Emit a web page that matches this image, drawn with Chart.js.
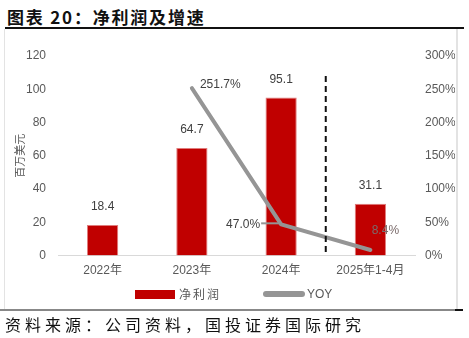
<!DOCTYPE html>
<html>
<head>
<meta charset="utf-8">
<script src="https://cdn.jsdelivr.net/npm/chart.js@4.4.1/dist/chart.umd.min.js"></script>
<style>
  html, body { margin: 0; padding: 0; background: #fff; }
  body { width: 469px; height: 338px; position: relative; overflow: hidden;
         font-family: "Liberation Sans", "Noto Sans CJK SC", sans-serif; }
  #title { position: absolute; left: 7px; top: 4px; font-size: 17px; font-weight: bold;
           color: #111; font-family: "Noto Sans CJK SC", sans-serif; letter-spacing: 1.8px; }
  #topRule { position: absolute; left: 5px; top: 27px; width: 459px; height: 2px; background: #111; }
  #frame { position: absolute; left: 4px; top: 29px; width: 451px; height: 280px;
           border-left: 1px solid #e3e3e3; border-right: 2px solid #e3e3e3; }
  #bottomRule { position: absolute; left: 0px; top: 309px; width: 458px; height: 2px; background: #888; }
  #bottomRule2 { position: absolute; left: 455px; top: 309px; width: 8px; height: 2px; background: #111; }
  #source { position: absolute; left: 5px; top: 312px; font-size: 16px; color: #111;
            font-family: "Noto Sans CJK SC", sans-serif; letter-spacing: 4px; }
  #wrap { position: absolute; left: 5px; top: 29px; width: 450px; height: 280px; }
  .lg { position: absolute; font-size: 12px; color: #595959; line-height: 14px;
        font-family: "Noto Sans CJK SC", sans-serif; }
  .sw { position: absolute; }
</style>
</head>
<body>
<div id="title">图表 20：净利润及增速</div>
<div id="topRule"></div>
<div id="frame"></div>
<div id="wrap"><canvas id="c" width="450" height="280"></canvas></div>
<div class="sw" style="left:135px; top:290px; width:40px; height:9px; background:#C00000;"></div>
<div class="lg" style="left:179px; top:287px; letter-spacing:2px;">净利润</div>
<div class="sw" style="left:263px; top:291px; width:42px; height:6px; border-radius:3px; background:#959595;"></div>
<div class="lg" style="left:307px; top:287px; font-family:'Liberation Sans', sans-serif;">YOY</div>
<div id="bottomRule"></div>
<div id="bottomRule2"></div>
<div id="source">资料来源：公司资料，国投证券国际研究</div>
<script>
// Net profit (USD mn) and year-on-year growth (%)
const categories = ['2022年', '2023年', '2024年', '2025年1-4月'];
const netProfit = [18.4, 64.7, 95.1, 31.1];
const yoyGrowth = [null, 251.7, 47.0, 8.4];
const leftTicks = [0, 20, 40, 60, 80, 100, 120];
const rightTicks = [0, 50, 100, 150, 200, 250, 300];

const RED = '#C00000';
const GREY = '#959595';
const TEXT = '#595959';

// Value labels, the 2024 / YTD divider and the YOY label leader
const labelPlugin = {
  id: 'valueLabels',
  afterDatasetsDraw(chart) {
    const { ctx, scales } = chart;
    const x = scales.x, y = scales.y, y1 = scales.y1;
    ctx.save();

    // dashed divider between full years and the partial year
    const xd = (x.getPixelForValue(2) + x.getPixelForValue(3)) / 2;
    ctx.strokeStyle = '#111';
    ctx.lineWidth = 2;
    ctx.setLineDash([6, 4]);
    ctx.beginPath();
    ctx.moveTo(xd, y.getPixelForValue(108));
    ctx.lineTo(xd, y.getPixelForValue(0));
    ctx.stroke();
    ctx.setLineDash([]);

    ctx.font = '12px "Liberation Sans", sans-serif';
    ctx.fillStyle = '#404040';
    ctx.textAlign = 'center';
    ctx.textBaseline = 'middle';
    netProfit.forEach((v, i) => {
      ctx.fillText(v.toFixed(1), x.getPixelForValue(i), y.getPixelForValue(v) - 18);
    });

    // YOY labels
    const p1x = x.getPixelForValue(1), p1y = y1.getPixelForValue(yoyGrowth[1]);
    ctx.textAlign = 'left';
    ctx.fillText(yoyGrowth[1].toFixed(1) + '%', p1x + 8, p1y - 3);

    const p2x = x.getPixelForValue(2), p2y = y1.getPixelForValue(yoyGrowth[2]);
    ctx.strokeStyle = GREY;
    ctx.lineWidth = 2;
    ctx.beginPath();
    ctx.moveTo(p2x - 20, p2y - 1);
    ctx.lineTo(p2x, p2y - 1);
    ctx.stroke();
    ctx.textAlign = 'right';
    ctx.fillText(yoyGrowth[2].toFixed(1) + '%', p2x - 21, p2y);

    const p3x = x.getPixelForValue(3), p3y = y1.getPixelForValue(yoyGrowth[3]);
    ctx.textAlign = 'center';
    ctx.fillStyle = '#7a6a6a';
    ctx.fillText(yoyGrowth[3].toFixed(1) + '%', p3x + 15, p3y - 19);
    ctx.restore();
  }
};

new Chart(document.getElementById('c'), {
  data: {
    labels: categories,
    datasets: [
      {
        type: 'line',
        label: 'YOY',
        data: yoyGrowth,
        yAxisID: 'y1',
        borderColor: GREY,
        backgroundColor: GREY,
        borderWidth: 4,
        borderCapStyle: 'round',
        borderJoinStyle: 'round',
        pointRadius: 0,
        pointHoverRadius: 0,
        spanGaps: false,
        order: 0
      },
      {
        type: 'bar',
        label: '净利润',
        data: netProfit,
        yAxisID: 'y',
        backgroundColor: RED,
        borderColor: '#e07c7c',
        borderWidth: 1,
        barPercentage: 0.35,
        categoryPercentage: 1.0,
        order: 1
      }
    ]
  },
  options: {
    responsive: false,
    animation: false,
    devicePixelRatio: 1,
    layout: { padding: { top: 27, right: 0, left: 8, bottom: 23 } },
    plugins: {
      tooltip: { enabled: false },
      legend: { display: false }
    },
    scales: {
      x: {
        grid: { display: false, drawTicks: false },
        border: { display: true, color: '#d9d9d9', width: 1 },
        ticks: { color: TEXT, padding: 8, font: { size: 12, family: '"Liberation Sans", "Noto Sans CJK SC", sans-serif' } }
      },
      y: {
        position: 'left',
        min: 0, max: 120,
        afterBuildTicks(s) { s.ticks = leftTicks.map(v => ({ value: v })); },
        afterFit(s) { s.width = 45; },
        grid: { display: false, drawTicks: false },
        border: { display: false },
        title: { display: true, text: '百万美元', color: TEXT, padding: { top: 0, bottom: 0 },
                 font: { size: 11, family: '"Noto Sans CJK SC", sans-serif' } },
        ticks: { color: TEXT, padding: 12, font: { size: 12, family: '"Liberation Sans", sans-serif' } }
      },
      y1: {
        position: 'right',
        min: 0, max: 300,
        afterBuildTicks(s) { s.ticks = rightTicks.map(v => ({ value: v })); },
        afterFit(s) { s.width = 40; },
        grid: { display: false, drawTicks: false },
        border: { display: false },
        ticks: { color: TEXT, padding: 10, callback: v => v + '%',
                 font: { size: 12, family: '"Liberation Sans", sans-serif' } }
      }
    }
  },
  plugins: [labelPlugin]
});
</script>
</body>
</html>
